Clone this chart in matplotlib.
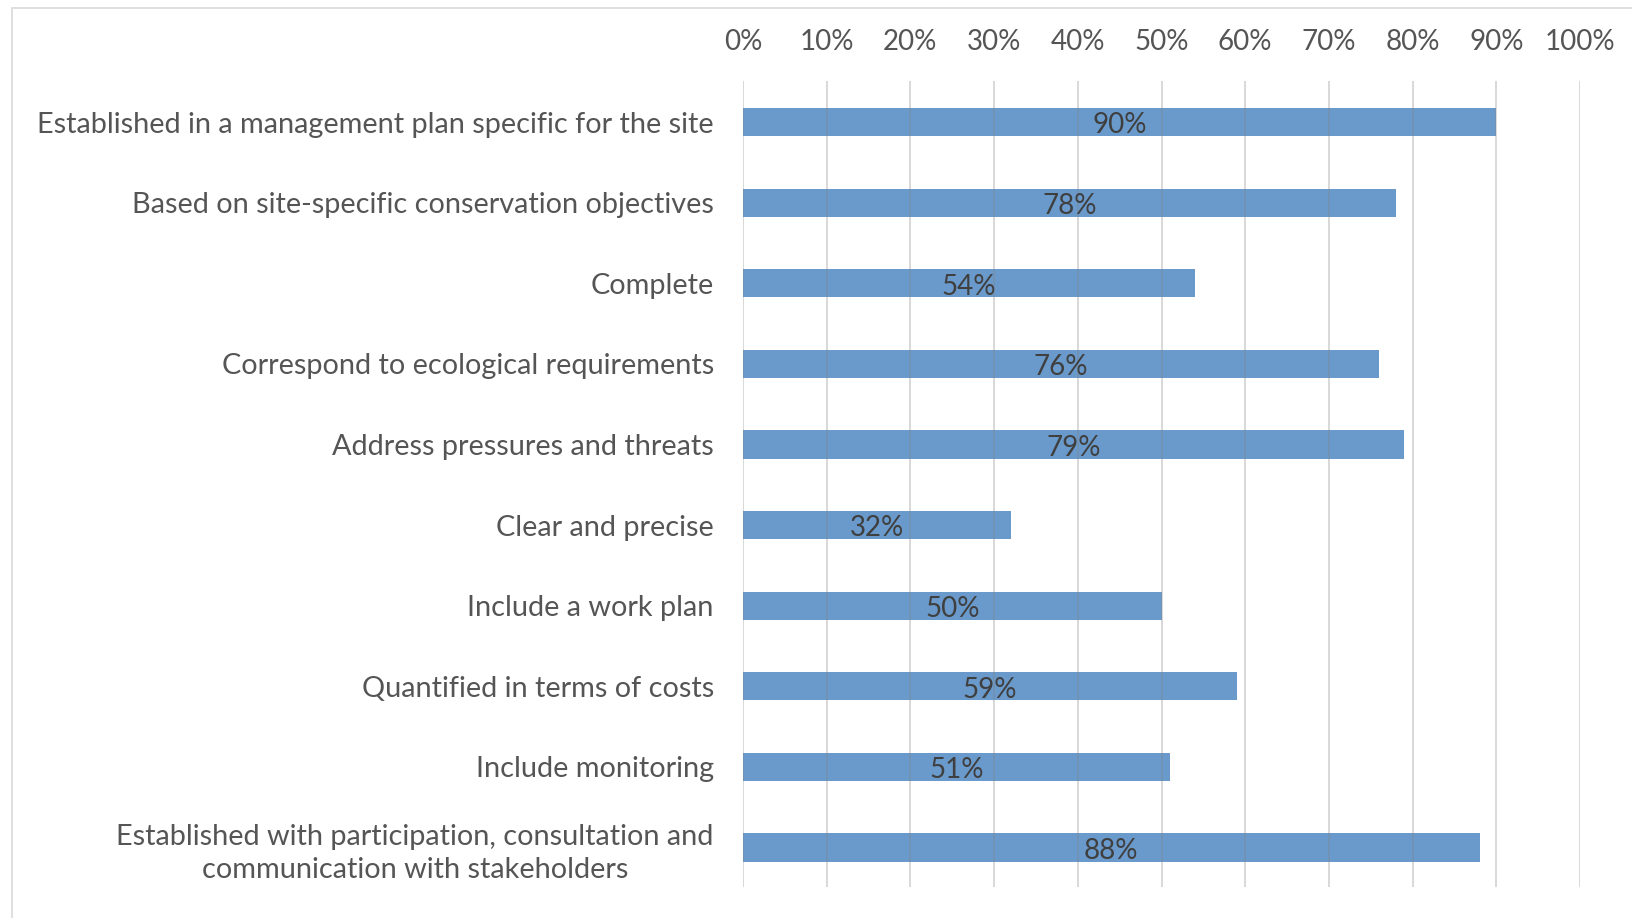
import matplotlib.pyplot as plt
import matplotlib as mpl
from matplotlib.patches import Rectangle

# --- data ---
categories = [
    "Established in a management plan specific for the site",
    "Based on site-specific conservation objectives",
    "Complete",
    "Correspond to ecological requirements",
    "Address pressures and threats",
    "Clear and precise",
    "Include a work plan",
    "Quantified in terms of costs",
    "Include monitoring",
    "Established with participation, consultation and\ncommunication with stakeholders",
]
values = [90, 78, 54, 76, 79, 32, 50, 59, 51, 88]
xticks = list(range(0, 101, 10))

BAR = "#6a9acb"
TEXT = "#555555"

mpl.rcParams["font.family"] = ["Lato", "DejaVu Sans"]

fig = plt.figure(figsize=(16.32, 9.18), dpi=100)
ax = fig.add_axes([743 / 1632, 31 / 918, 837 / 1632, 806 / 918])

y = list(range(len(categories)))
ax.barh(y, values, height=0.35, color=BAR, zorder=1)
for yi, v in zip(y, values):
    ax.text(v / 2, yi + 0.04, f"{v}%", ha="center", va="center",
            fontsize=20, color="#3f3f3f", zorder=3)

ax.set_xlim(0, 100)
ax.set_ylim(9.49, -0.51)
ax.set_xticks(xticks)
ax.set_xticklabels([f"{t}%" for t in xticks])
ax.xaxis.tick_top()
ax.set_yticks(y)
ax.set_yticklabels(categories)
for lab in ax.get_yticklabels():
    lab.set_multialignment("center")
    lab.set_linespacing(1.35)

ax.tick_params(axis="x", length=0, pad=19, labelsize=20, colors=TEXT)
ax.tick_params(axis="y", length=0, pad=21, labelsize=20.8, colors=TEXT)
ax.xaxis.grid(True, color="#808080", alpha=0.3, linewidth=1.4, zorder=2)
ax.set_axisbelow(False)
for s in ax.spines.values():
    s.set_visible(False)

# light frame round the chart area
fig.patches.append(Rectangle((12 / 1632, -0.1), 1.2, (918 - 8) / 918 + 0.1,
                             transform=fig.transFigure, fill=False,
                             edgecolor="#d9d9d9", linewidth=1.2))

fig.savefig("out.png", dpi=100)
